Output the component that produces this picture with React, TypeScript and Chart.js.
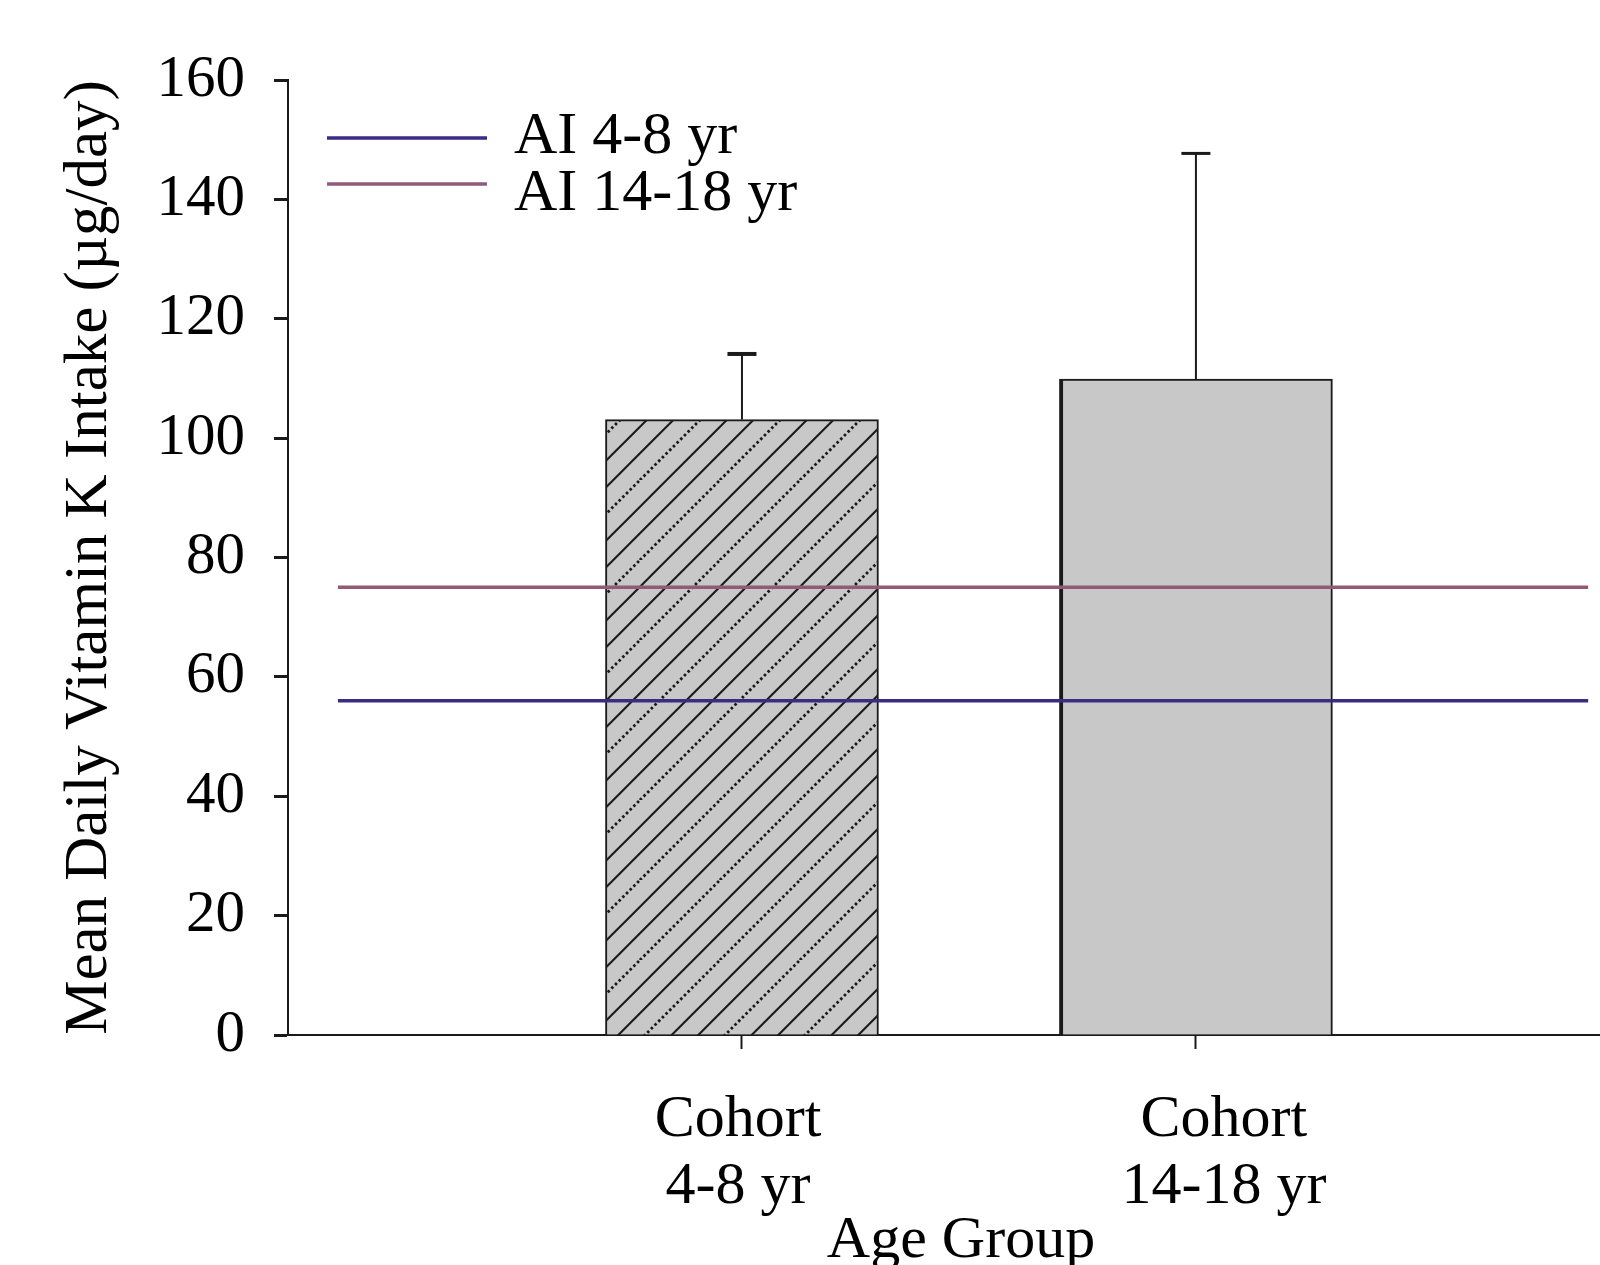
import { useEffect, useRef } from 'react';
import { Chart, registerables } from 'chart.js';

Chart.register(...registerables);

// ---- data ----
const categoryLabels: string[][] = [['Cohort', '4-8 yr'], ['Cohort', '14-18 yr']];
const categoryPositions = [1, 2];
const meanIntake = [103.1, 109.9];
const errorUpper = [114.1, 147.7];
const aiLabels = ['AI 4-8 yr', 'AI 14-18 yr'];
const aiValues = [56, 75];
const aiSpan = [0.11, 2.864];
const yMin = 0;
const yMax = 160;
const yStep = 20;
const xMin = 0;
const xMax = 2.965;
const yTitle = 'Mean Daily Vitamin K Intake (\u00b5g/day)';
const xTitle = 'Age Group';

// ---- style ----
const FONT = '"Liberation Serif", "Times New Roman", serif';
const aiColors = ['#3d2a85', '#925a75'];
const barFill = '#c8c8c8';
const ink = '#1a1a1a';
const labelShift = [-4, 28];

function makeHatch(): CanvasPattern | string {
  const T = 80;
  const n = 3;
  const s = T / n;
  const c = document.createElement('canvas');
  c.width = T;
  c.height = T;
  const g = c.getContext('2d');
  if (!g) return barFill;
  g.fillStyle = barFill;
  g.fillRect(0, 0, T, T);
  g.strokeStyle = ink;
  for (let k = -1; k <= 2 * n + 1; k++) {
    const cc = k * s;
    const dotted = ((k % n) + n) % n === 0;
    g.setLineDash(dotted ? [2.6, 2.6] : []);
    g.lineWidth = dotted ? 2.8 : 2.1;
    g.beginPath();
    g.moveTo(cc + 10, -10);
    g.lineTo(cc - T - 10, T + 10);
    g.stroke();
  }
  const p = g.createPattern(c, 'repeat');
  return p || barFill;
}

const errorBarPlugin = {
  id: 'errorBars',
  afterDatasetsDraw(chart: any) {
    const { ctx, scales } = chart;
    const xs = scales.x;
    const ys = scales.y;
    ctx.save();
    ctx.strokeStyle = ink;
    categoryPositions.forEach((xv, i) => {
      const x = xs.getPixelForValue(xv);
      const yTop = ys.getPixelForValue(meanIntake[i]);
      const yErr = ys.getPixelForValue(errorUpper[i]);
      ctx.lineWidth = 2;
      ctx.beginPath();
      ctx.moveTo(x, yTop);
      ctx.lineTo(x, yErr);
      ctx.stroke();
      ctx.lineWidth = i === 0 ? 4 : 3;
      ctx.beginPath();
      ctx.moveTo(x - 14.5, yErr);
      ctx.lineTo(x + 14.5, yErr);
      ctx.stroke();
    });
    ctx.restore();
  },
};

const categoryLabelPlugin = {
  id: 'categoryLabels',
  afterDraw(chart: any) {
    const { ctx, scales } = chart;
    const xs = scales.x;
    ctx.save();
    ctx.font = `60px ${FONT}`;
    ctx.fillStyle = '#000';
    ctx.textAlign = 'center';
    ctx.textBaseline = 'alphabetic';
    categoryPositions.forEach((v, i) => {
      const x = xs.getPixelForValue(v) + labelShift[i];
      categoryLabels[i].forEach((line, j) => {
        ctx.fillText(line, x, xs.top + 101 + j * 67);
      });
    });
    ctx.restore();
  },
};

const legendPlugin = {
  id: 'insideLegend',
  afterDraw(chart: any) {
    const { ctx, chartArea } = chart;
    ctx.save();
    ctx.font = `60px ${FONT}`;
    ctx.fillStyle = '#000';
    ctx.textBaseline = 'alphabetic';
    ctx.textAlign = 'left';
    let row = 0;
    chart.data.datasets.forEach((ds: any) => {
      if (ds.type !== 'line') return;
      const lineY = chartArea.top + 58 + row * 46;
      const textY = chartArea.top + 73 + row * 57;
      ctx.strokeStyle = ds.borderColor;
      ctx.lineWidth = 3.5;
      ctx.beginPath();
      ctx.moveTo(chartArea.left + 39, lineY);
      ctx.lineTo(chartArea.left + 199, lineY);
      ctx.stroke();
      ctx.fillText(ds.label, chartArea.left + 226, textY);
      row++;
    });
    ctx.restore();
  },
};

export default function App() {
  const ref = useRef<HTMLCanvasElement>(null);

  useEffect(() => {
    document.body.style.margin = '0';
    document.body.style.overflow = 'hidden';
    document.documentElement.style.overflow = 'hidden';
    const canvas = ref.current;
    if (!canvas) return;
    const hatch = makeHatch();

    const datasets: any[] = [
      {
        type: 'bar',
        label: 'Mean intake',
        data: categoryPositions.map((x, i) => ({ x, y: meanIntake[i] })),
        backgroundColor: [hatch, barFill],
        borderColor: ink,
        borderWidth: [
          { left: 2, top: 2, right: 2, bottom: 0 },
          { left: 4, top: 2, right: 2, bottom: 0 },
        ],
        borderSkipped: false,
        barThickness: 273,
        order: 2,
      },
      ...aiValues.map((v, i) => ({
        type: 'line',
        label: aiLabels[i],
        data: aiSpan.map((x) => ({ x, y: v })),
        borderColor: aiColors[i],
        backgroundColor: aiColors[i],
        borderWidth: 3.5,
        pointRadius: 0,
        fill: false,
        order: 0,
      })),
    ];

    const chart = new Chart(canvas, {
      type: 'bar',
      data: { datasets },
      options: {
        animation: false,
        responsive: false,
        devicePixelRatio: 1,
        layout: { padding: { top: 80, left: 0, right: 0, bottom: 0 } },
        plugins: {
          legend: { display: false },
          tooltip: { enabled: false },
        },
        scales: {
          x: {
            type: 'linear',
            min: xMin,
            max: xMax,
            offset: false,
            afterBuildTicks: (s: any) => {
              s.ticks = categoryPositions.map((v) => ({ value: v }));
            },
            afterFit: (s: any) => {
              s.height = 230;
            },
            ticks: {
              display: false,
              autoSkip: false,
              maxRotation: 0,
            },
            grid: {
              offset: false,
              drawOnChartArea: false,
              drawTicks: true,
              tickLength: 14,
              tickWidth: 2,
              tickColor: ink,
            },
            border: { display: true, color: ink, width: 2 },
            title: {
              display: true,
              text: xTitle,
              color: '#000',
              font: { family: FONT, size: 60, lineHeight: 0.8 },
              padding: { top: 0, bottom: 0 },
            },
          },
          y: {
            type: 'linear',
            min: yMin,
            max: yMax,
            afterFit: (s: any) => {
              s.width = 288;
            },
            ticks: {
              stepSize: yStep,
              padding: 29,
              color: '#000',
              font: { family: FONT, size: 59 },
            },
            grid: {
              drawOnChartArea: false,
              drawTicks: true,
              tickLength: 14,
              tickWidth: 3,
              tickColor: ink,
            },
            border: { display: true, color: ink, width: 2 },
            title: {
              display: true,
              text: yTitle,
              color: '#000',
              font: { family: FONT, size: 61, lineHeight: 1 },
              padding: { top: 59, bottom: 0 },
            },
          },
        },
      } as any,
      plugins: [errorBarPlugin, categoryLabelPlugin, legendPlugin],
    });

    return () => chart.destroy();
  }, []);

  return (
    <div style={{ width: 1600, height: 1265, overflow: 'hidden', position: 'relative', background: '#fff' }}>
      <canvas ref={ref} width={1634} height={1265} style={{ display: 'block', width: 1634, height: 1265 }} />
    </div>
  );
}
